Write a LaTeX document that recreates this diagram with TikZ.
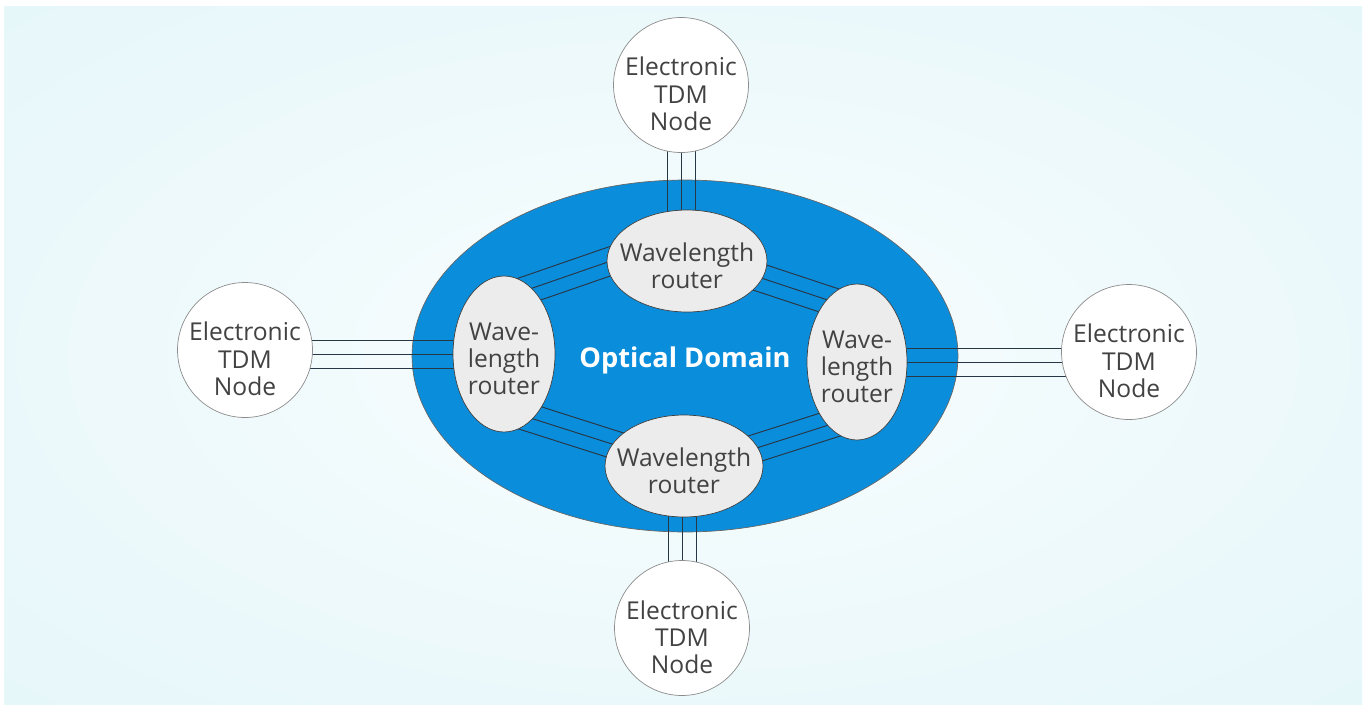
\documentclass[tikz,border=0pt]{standalone}
\usepackage{fontspec}
\setmainfont{Open Sans}
\usetikzlibrary{shapes.geometric,calc,backgrounds}

\definecolor{optblue}{RGB}{10,142,220}
\definecolor{routgray}{RGB}{236,236,236}
\definecolor{inkgray}{RGB}{66,66,66}
\definecolor{bgedge}{RGB}{222,244,248}
\definecolor{bgmid}{RGB}{249,253,254}
\definecolor{fibre}{RGB}{40,55,70}

\pgfdeclareradialshading{bgglow}{\pgfpoint{0bp}{0bp}}{color(0bp)=(bgmid); color(22bp)=(bgmid!55!bgedge); color(50bp)=(bgedge); color(75bp)=(bgedge)}

\tikzset{
 nodetext/.style={align=center,text=inkgray,inner sep=0pt,font=\fontsize{14}{15.5}\selectfont},
 tdm/.style={circle,draw=black!45,fill=white,minimum size=2.7cm,inner sep=0pt,
   label={[nodetext,yshift=-0.18cm]center:#1}},
 router/.style={ellipse,draw=black!75,fill=routgray,inner sep=0pt,
   label={[nodetext,yshift=-0.1cm]center:#1}},
 fibreline/.style={draw=fibre,line width=0.55pt,shorten <=-12pt,shorten >=-12pt},
}

% three parallel fibres between two points
\newcommand\trunk[2]{%
 \foreach \off in {-0.28cm,0cm,0.28cm}
  \draw[fibreline] ($(#1)!\off!90:(#2)$) -- ($(#2)!\off!-90:(#1)$);
}

\begin{document}
\begin{tikzpicture}[x=0.02cm,y=-0.02cm]
 \useasboundingbox (0,0) rectangle (1370,704);

 % routers inside the optical domain
 \node[router={Wavelength\\router},minimum width=3.2cm,minimum height=2.04cm] (trouter) at (687,261) {};
 \node[router={Wavelength\\router},minimum width=3.16cm,minimum height=2.04cm] (brouter) at (684,466) {};
 \node[router={Wave-\\length\\router},minimum width=2.04cm,minimum height=3.12cm] (lrouter) at (504,354) {};
 \node[router={Wave-\\length\\router},minimum width=2.0cm,minimum height=3.12cm] (rrouter) at (857,362) {};

 % electronic nodes outside
 \node[tdm={Electronic\\TDM\\Node}] (ttdm) at (681,85) {};
 \node[tdm={Electronic\\TDM\\Node}] (ltdm) at (245,350) {};
 \node[tdm={Electronic\\TDM\\Node}] (rtdm) at (1129,352) {};
 \node[tdm={Electronic\\TDM\\Node}] (btdm) at (682,628) {};

 \begin{scope}[on background layer]
  \fill[white] (0,0) rectangle (1370,704);
  \shade[shading=bgglow] (4,6) rectangle (1362,704);
  \node[ellipse,draw=black!60,fill=optblue,minimum width=10.92cm,minimum height=7.04cm,
    label={[text=white,font=\fontsize{15.5}{18}\selectfont\bfseries,yshift=-0.09cm]center:Optical Domain}]
    (domain) at (685,356) {};

  % fibre trunks
  \trunk{lrouter.67}{trouter.181}
  \trunk{trouter.347}{rrouter.116}
  \trunk{lrouter.294}{brouter.163}
  \trunk{brouter.14}{rrouter.245}
  \trunk{lrouter}{lrouter -| ltdm}
  \trunk{rrouter}{rrouter -| rtdm}
  \trunk{ttdm}{ttdm |- trouter}
  \trunk{btdm}{btdm |- brouter}
 \end{scope}
\end{tikzpicture}
\end{document}
